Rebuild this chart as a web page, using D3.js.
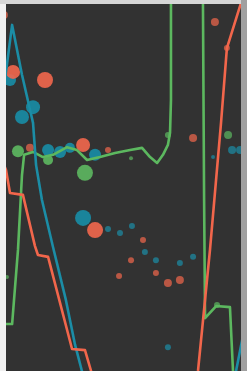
<!DOCTYPE html>
<html>
<head>
<meta charset="utf-8">
<script src="https://cdn.jsdelivr.net/npm/d3@7"></script>
<style>
html,body{margin:0;padding:0;background:#ececec;overflow:hidden;}
svg{display:block;}
</style>
</head>
<body>
<svg id="chart" width="247" height="371"></svg>
<script>
// ---- data (x: 0-100 units, y: 0-100 units) ----
const blueLineX = [-1.3, 2.6, 6.8, 11.5, 12.8, 15.3, 20.0, 25.5, 29.4, 32.3, 34.0, null, 96.6, 97.9, 100.9];
const blueLineY = [75.2, 94.3, 80.7, 67.6, 56.1, 46.6, 33.8, 19.3, 7.1, 0, -5, null, -2.5, 0, 9.8];

const redLineX = [-1.7, 0, 1.7, 7.2, 12.3, 13.6, 17.9, 28.1, 33.6, 36.2, 37.0, null, 80.9, 81.7, 86.8, 91.5, 94.0, 100.4, 101.7];
const redLineY = [57.5, 54.8, 48.5, 48.0, 34.1, 31.6, 31.1, 6.0, 5.7, 0, -2.5, null, -2.5, 0, 33.0, 67.6, 88.0, 101.1, 103.8];

const greenLineX = [-2.6, 2.6, 5.1, 6.8, 7.7, 11.5, 15.7, 20.0, 26.0, 30.2, 34.5, 40.0, 46.4, 52.8, 57.9, 61.3, 64.3, 66.8, 68.9, 69.8, 70.2, 70.2, 83.4, 83.8, 84.3, 84.7, 89.4, 95.3, 96.6, 97.0];
const greenLineY = [12.8, 12.8, 33.0, 53.4, 58.9, 59.7, 58.3, 58.9, 61.0, 60.2, 57.5, 58.3, 59.4, 60.2, 60.8, 58.3, 56.7, 58.9, 61.6, 64.9, 73.8, 106.5, 106.5, 101.1, 46.6, 14.4, 17.7, 17.4, 0, -5];

const redPtsX = [-0.9, 3.0, 16.6, 10.2, 32.8, 43.4, 37.9, 58.3, 53.2, 48.1, 63.8, 68.9, 74.0, 79.6, 88.9, 94.0];
const redPtsY = [97.0, 81.5, 79.3, 60.8, 61.6, 60.2, 38.4, 35.7, 30.2, 25.9, 26.7, 24.0, 24.8, 63.5, 95.1, 88.0];
const redPtsS = [16, 49, 64, 16, 49, 9, 64, 9, 9, 9, 9, 16, 16, 16, 16, 9];

const bluePtsX = [1.7, 11.5, 6.8, 17.9, 23.0, 27.2, 37.9, 32.8, 43.4, 48.5, 53.6, 59.1, 63.8, 74.0, 79.6, 68.9, 88.1, 96.2, 99.6];
const bluePtsY = [79.3, 71.9, 69.2, 60.2, 59.7, 60.8, 58.9, 41.7, 38.7, 37.6, 39.5, 32.4, 30.2, 29.4, 31.1, 6.5, 58.3, 60.2, 60.2];
const bluePtsS = [36, 49, 49, 36, 36, 25, 36, 64, 9, 9, 9, 9, 9, 9, 9, 9, 4, 16, 16];

const greenPtsX = [5.1, 17.9, 33.6, 53.2, 68.9, 94.5, 89.8, 0.4];
const greenPtsY = [59.9, 57.5, 54.0, 58.0, 64.3, 64.3, 18.0, 25.6];
const greenPtsS = [36, 25, 64, 4, 9, 16, 9, 4];

const colors = {red: "#f2664c", blue: "#1a8da6", green: "#5cb85f"};

// ---- layout ----
const svg = d3.select("#chart");
const W = 247, H = 371;
const plot = {left: 6, top: 4, right: 241, bottom: 371};

svg.append("rect").attr("x", 0).attr("y", 0).attr("width", W).attr("height", H).attr("fill", "#f0f0f0");
svg.append("rect").attr("x", 0).attr("y", 0).attr("width", W).attr("height", plot.top).attr("fill", "#d6d6d6");
svg.append("rect").attr("x", plot.right).attr("y", 0).attr("width", W - plot.right).attr("height", H).attr("fill", "#a0a0a0");
svg.append("rect").attr("x", plot.left).attr("y", plot.top).attr("width", plot.right - plot.left).attr("height", plot.bottom - plot.top).attr("fill", "#323232");

const defs = svg.append("defs");
defs.append("clipPath").attr("id", "clip")
  .append("rect").attr("x", plot.left).attr("y", plot.top)
  .attr("width", plot.right - plot.left).attr("height", plot.bottom - plot.top);
defs.append("filter").attr("id", "soft").attr("x", "-5%").attr("y", "-5%").attr("width", "110%").attr("height", "110%")
  .append("feGaussianBlur").attr("stdDeviation", 0.6);

const x = d3.scaleLinear().domain([0, 100]).range([6, 241]);
const y = d3.scaleLinear().domain([0, 100]).range([371, 4]);
const r = d3.scaleSqrt().domain([0, 64]).range([0, 8]);

const outer = svg.append("g").attr("clip-path", "url(#clip)");
const g = outer.append("g").attr("filter", "url(#soft)");

function pts(xs, ys, ss) { return xs.map((v, i) => ({x: v, y: ys[i], s: ss ? ss[i] : 0})); }

const dots = [
  {c: colors.green, d: pts(greenPtsX, greenPtsY, greenPtsS)},
  {c: colors.blue, d: pts(bluePtsX, bluePtsY, bluePtsS)},
  {c: colors.red, d: pts(redPtsX, redPtsY, redPtsS)}
];
dots.forEach(set => {
  g.append("g").selectAll("circle").data(set.d).join("circle")
    .attr("cx", d => x(d.x)).attr("cy", d => y(d.y)).attr("r", d => r(d.s))
    .attr("fill", set.c).attr("fill-opacity", d => d.s <= 16 ? 0.7 : 0.9);
});

const line = d3.line().defined(d => d.x !== null).x(d => x(d.x)).y(d => y(d.y));
const lines = [
  {c: colors.green, d: pts(greenLineX, greenLineY)},
  {c: colors.blue, d: pts(blueLineX, blueLineY)},
  {c: colors.red, d: pts(redLineX, redLineY)}
];
lines.forEach(l => {
  g.append("path").datum(l.d).attr("d", line)
    .attr("fill", "none").attr("stroke", l.c).attr("stroke-width", 2.6)
    .attr("stroke-linejoin", "round").attr("stroke-linecap", "round");
});
</script>
</body>
</html>
